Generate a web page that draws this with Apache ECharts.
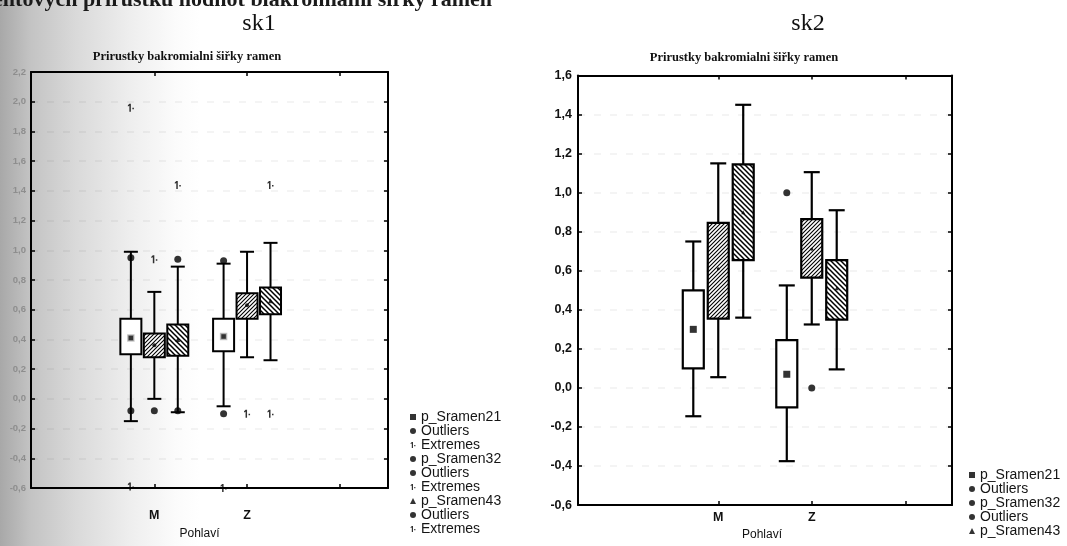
<!DOCTYPE html>
<html>
<head>
<meta charset="utf-8">
<script src="https://cdn.jsdelivr.net/npm/echarts@6/dist/echarts.min.js"></script>
<style>
  html, body { margin: 0; padding: 0; width: 1067px; height: 546px; overflow: hidden;
    background: linear-gradient(to right, #a8a8a8 0px, #c3c3c3 30px, #d9d9d9 75px, #eeeeee 130px, #fbfbfb 175px, #ffffff 200px); }
  #chart { width: 1067px; height: 546px; }
</style>
</head>
<body>
<div id="chart"></div>
<script>
// ---- data ----
const categories = ['M', 'Z'];
const seriesNames = ['p_Sramen21', 'p_Sramen32', 'p_Sramen43'];

// y-axis tick values of each panel
const sk1YTicks = [-0.6, -0.4, -0.2, 0.0, 0.2, 0.4, 0.6, 0.8, 1.0, 1.2, 1.4, 1.6, 1.8, 2.0, 2.2];
const sk2YTicks = [-0.6, -0.4, -0.2, 0.0, 0.2, 0.4, 0.6, 0.8, 1.0, 1.2, 1.4, 1.6];

// box statistics per category (M, Z): [lower whisker, Q1, Q3, upper whisker, mean]
const sk1Sramen21 = [[-0.15, 0.30, 0.54, 0.99, 0.41], [-0.05, 0.32, 0.54, 0.91, 0.42]];
const sk1Sramen32 = [[0.00, 0.28, 0.44, 0.72, 0.36], [0.28, 0.54, 0.71, 0.99, 0.63]];
const sk1Sramen43 = [[-0.09, 0.29, 0.50, 0.89, 0.40], [0.26, 0.57, 0.75, 1.05, 0.66]];

const sk2Sramen21 = [[-0.145, 0.10, 0.50, 0.75, 0.30], [-0.375, -0.10, 0.245, 0.525, 0.07]];
const sk2Sramen32 = [[0.055, 0.355, 0.845, 1.15, 0.61], [0.325, 0.565, 0.865, 1.105, 0.71]];
const sk2Sramen43 = [[0.36, 0.655, 1.145, 1.45, 0.90], [0.095, 0.35, 0.655, 0.91, 0.51]];

// single observations: [category, value]
const sk1Outliers21 = [['M', 0.95], ['M', -0.08], ['Z', 0.93], ['Z', -0.10]];
const sk1Extremes21 = [['M', 1.96], ['M', -0.59], ['Z', -0.60]];
const sk1Outliers32 = [['M', -0.08]];
const sk1Extremes32 = [['M', 0.94], ['Z', -0.10]];
const sk1Outliers43 = [['M', 0.94], ['M', -0.08]];
const sk1Extremes43 = [['M', 1.44], ['Z', 1.44], ['Z', -0.10]];

const sk2Outliers21 = [['Z', 1.00]];
const sk2Outliers32 = [['Z', 0.00]];

const sk1LegendLabels = ['p_Sramen21', 'Outliers', 'Extremes', 'p_Sramen32', 'Outliers', 'Extremes', 'p_Sramen43', 'Outliers', 'Extremes'];
const sk2LegendLabels = ['p_Sramen21', 'Outliers', 'p_Sramen32', 'Outliers', 'p_Sramen43'];

// ---- drawing helpers ----
const SANS = 'Liberation Sans, Arial, sans-serif';
const SERIF = 'Liberation Serif, Times New Roman, serif';

function hatch(size, dir, width) {
  const c = document.createElement('canvas');
  c.width = size; c.height = size;
  const g = c.getContext('2d');
  g.fillStyle = '#ffffff';
  g.fillRect(0, 0, size, size);
  g.strokeStyle = '#000000';
  g.lineWidth = width;
  g.beginPath();
  if (dir > 0) {           // "/" strokes
    for (let k = -1; k <= 1; k++) { g.moveTo(k * size - 1, size + 1); g.lineTo(k * size + size + 1, -1); }
  } else {                 // "\" strokes
    for (let k = -1; k <= 1; k++) { g.moveTo(k * size - 1, -1); g.lineTo(k * size + size + 1, size + 1); }
  }
  g.stroke();
  return { image: c, repeat: 'repeat' };
}

const fills = [
  '#ffffff',
  hatch(4, 1, 1.1),
  hatch(5, -1, 1.5)
];

const extremeSymbol = 'path://M3,0 L5,0 L5,10 L3,10 L3,2.5 L1,3.5 L1,2 Z M7,5 L9,5 L9,7 L7,7 Z';
const meanSymbols = ['rect', 'circle', 'triangle'];

const fmt = v => (Math.abs(v) < 1e-9 ? 0 : v).toFixed(1).replace('.', ',');

function boxRenderer(capHalf, boxHalf, fill, lw) {
  return function (params, api) {
    const x = api.value(0);
    const lo = api.coord([x, api.value(1)]);
    const q1 = api.coord([x, api.value(2)]);
    const q3 = api.coord([x, api.value(3)]);
    const hi = api.coord([x, api.value(4)]);
    const cx = lo[0];
    const ls = { stroke: '#000', lineWidth: lw };
    return {
      type: 'group',
      children: [
        { type: 'line', shape: { x1: cx, y1: hi[1], x2: cx, y2: q3[1] }, style: ls },
        { type: 'line', shape: { x1: cx, y1: q1[1], x2: cx, y2: lo[1] }, style: ls },
        { type: 'line', shape: { x1: cx - capHalf, y1: hi[1], x2: cx + capHalf, y2: hi[1] }, style: ls },
        { type: 'line', shape: { x1: cx - capHalf, y1: lo[1], x2: cx + capHalf, y2: lo[1] }, style: ls },
        { type: 'rect', shape: { x: cx - boxHalf, y: q3[1], width: 2 * boxHalf, height: q1[1] - q3[1] },
          style: { fill: fill, stroke: '#000', lineWidth: lw } }
      ]
    };
  };
}

function axesFor(g, ticks, xMin, xMax, opt) {
  const yMin = ticks[0], yMax = ticks[ticks.length - 1];
  const line = { show: true, onZero: false, lineStyle: { color: '#000', width: 2 } };
  const tick = { show: true, inside: true, length: 4, lineStyle: { width: 1.5, color: '#000' } };
  const xs = [
    { type: 'value', gridIndex: g, min: xMin, max: xMax, position: 'bottom',
      axisLine: line,
      axisTick: Object.assign({ customValues: [1, 2, 3] }, tick),
      axisLabel: { customValues: [1, 2], margin: opt.xLabelMargin, formatter: v => categories[Math.round(v) - 1] || '',
        color: '#111', fontFamily: SANS, fontWeight: 'bold', fontSize: 12.5 },
      splitLine: { show: false },
      name: 'Pohlaví', nameLocation: 'middle', nameGap: opt.nameGap,
      nameTextStyle: { color: '#111', fontFamily: SANS, fontSize: 12, padding: opt.namePad } },
    { type: 'value', gridIndex: g, min: xMin, max: xMax, position: 'top',
      axisLine: line,
      axisTick: Object.assign({ customValues: [1, 2, 3] }, tick),
      axisLabel: { show: false }, splitLine: { show: false } }
  ];
  const ys = [
    { type: 'value', gridIndex: g, min: yMin, max: yMax, interval: 0.2, position: 'left',
      axisLine: line,
      axisTick: tick,
      axisLabel: { formatter: fmt, margin: opt.yLabelMargin, color: opt.yLabelColor, fontFamily: SANS,
        fontWeight: 'bold', fontSize: opt.yLabelSize },
      splitLine: { show: true, lineStyle: { color: 'rgba(0,0,0,0.06)', width: 1.5, type: [7, 9] } } },
    { type: 'value', gridIndex: g, min: yMin, max: yMax, interval: 0.2, position: 'right',
      axisLine: line,
      axisTick: tick,
      axisLabel: { show: false }, splitLine: { show: false } }
  ];
  return { xs, ys };
}

const catIndex = c => categories.indexOf(c) + 1;

function panelSeries(g, boxes, offset, boxSize, pointSets, meanStyle) {
  const xi = g * 2, yi = g * 2;
  const out = [];
  boxes.forEach((stats, k) => {
    const shift = (k - 1) * offset;
    out.push({
      type: 'custom', xAxisIndex: xi, yAxisIndex: yi, clip: false, z: 2,
      renderItem: boxRenderer(boxSize.cap, boxSize.box, fills[k], boxSize.lw),
      encode: { x: 0, y: [1, 2, 3, 4] },
      data: stats.map((s, ci) => [ci + 1 + shift, s[0], s[1], s[2], s[3]])
    });
    out.push({
      type: 'scatter', name: seriesNames[k], xAxisIndex: xi, yAxisIndex: yi, z: 5,
      symbol: meanSymbols[k], symbolSize: meanStyle.size[k],
      itemStyle: { color: '#000', borderColor: meanStyle.border[k], borderWidth: meanStyle.borderWidth[k] },
      data: stats.map((s, ci) => [ci + 1 + shift, s[4]])
    });
  });
  pointSets.forEach(ps => {
    out.push({
      type: 'scatter', name: ps.name, xAxisIndex: xi, yAxisIndex: yi, z: 6,
      symbol: ps.symbol, symbolSize: ps.size,
      itemStyle: { color: ps.color || '#000' },
      data: ps.data.map(d => [catIndex(d[0]) + (ps.k - 1) * offset, d[1]])
    });
  });
  return out;
}

const ax1 = axesFor(0, sk1YTicks, -0.33, 3.52,
  { xLabelMargin: 21, nameGap: 40, namePad: [0, 20, 0, 0], yLabelMargin: 5, yLabelColor: '#8e8e8e', yLabelSize: 9.5 });
const ax2 = axesFor(1, sk2YTicks, -0.5, 3.5,
  { xLabelMargin: 6, nameGap: 20, namePad: [0, 6, 0, 0], yLabelMargin: 6, yLabelColor: '#111', yLabelSize: 12.5 });

const series = [].concat(
  panelSeries(0, [sk1Sramen21, sk1Sramen32, sk1Sramen43], 0.253, { cap: 7, box: 10.5, lw: 2 }, [
    { name: 'Outliers', k: 0, symbol: 'circle', size: 7, data: sk1Outliers21 },
    { name: 'Extremes', k: 0, symbol: extremeSymbol, size: [6, 8], data: sk1Extremes21 },
    { name: 'Outliers ', k: 1, symbol: 'circle', size: 7, data: sk1Outliers32 },
    { name: 'Extremes ', k: 1, symbol: extremeSymbol, size: [6, 8], data: sk1Extremes32 },
    { name: 'Outliers  ', k: 2, symbol: 'circle', size: 7, data: sk1Outliers43 },
    { name: 'Extremes  ', k: 2, symbol: extremeSymbol, size: [6, 8], data: sk1Extremes43 }
  ], { size: [6, 4, 5], border: ['#bbbbbb', '#000', '#000'], borderWidth: [1.5, 0, 0] }),
  panelSeries(1, [sk2Sramen21, sk2Sramen32, sk2Sramen43], 0.267, { cap: 8, box: 10.5, lw: 2.2 }, [
    { name: 'Outliers', k: 0, symbol: 'circle', size: 7, data: sk2Outliers21 },
    { name: 'Outliers ', k: 1, symbol: 'circle', size: 7, data: sk2Outliers32 }
  ], { size: [7, 3, 4], border: ['#000', '#000', '#000'], borderWidth: [0, 0, 0] })
);

// legend entries keep their own marker; repeated labels map to distinct series names
const sk1LegendNames = ['p_Sramen21', 'Outliers', 'Extremes', 'p_Sramen32', 'Outliers ', 'Extremes ', 'p_Sramen43', 'Outliers  ', 'Extremes  '];
const sk1LegendIcons = ['rect', 'circle', extremeSymbol, 'circle', 'circle', extremeSymbol, 'triangle', 'circle', extremeSymbol];
const sk2LegendNames = ['p_Sramen21', 'Outliers', 'p_Sramen32', 'Outliers ', 'p_Sramen43'];
const sk2LegendIcons = ['rect', 'circle', 'circle', 'circle', 'triangle'];

const legendText = { color: '#151515', fontFamily: SANS, fontSize: 14, lineHeight: 14 };

const chart = echarts.init(document.getElementById('chart'), null, { renderer: 'canvas' });
chart.setOption({
  animation: false,
  grid: [
    { left: 31, top: 72, width: 357, height: 416 },
    { left: 578, top: 75.5, width: 374, height: 430.5 }
  ],
  xAxis: ax1.xs.concat(ax2.xs),
  yAxis: ax1.ys.concat(ax2.ys),
  legend: [
    { orient: 'vertical', left: 405, top: 405, itemWidth: 6, itemHeight: 6, itemGap: 0, itemTextGap: 10,
      itemStyle: { color: '#000', borderWidth: 0 },
      selectedMode: false, textStyle: legendText, formatter: n => n.trim(),
      data: sk1LegendNames.map((n, i) => ({ name: n, icon: sk1LegendIcons[i] })) },
    { orient: 'vertical', left: 964, top: 463, itemWidth: 6, itemHeight: 6, itemGap: 0, itemTextGap: 15,
      itemStyle: { color: '#000', borderWidth: 0 },
      selectedMode: false, textStyle: legendText, formatter: n => n.trim(),
      data: sk2LegendNames.map((n, i) => ({ name: n, icon: sk2LegendIcons[i] })) }
  ],
  graphic: [
    { type: 'text', x: 492, y: 0, style: { text: 'Boxploty procentových přírůstků hodnot biakromiální šířky ramen',
      align: 'right', verticalAlign: 'middle', font: 'bold 22px ' + SERIF, fill: '#1a1a1a' } },
    { type: 'text', x: 259, y: 24, style: { text: 'sk1', align: 'center', verticalAlign: 'middle', font: '24px ' + SERIF, fill: '#111' } },
    { type: 'text', x: 808, y: 24, style: { text: 'sk2', align: 'center', verticalAlign: 'middle', font: '24px ' + SERIF, fill: '#111' } },
    { type: 'text', x: 187, y: 57, style: { text: 'Prirustky bakromialni šiřky ramen', align: 'center', verticalAlign: 'middle',
      font: 'bold 12.5px ' + SERIF, fill: '#111' } },
    { type: 'text', x: 744, y: 58, style: { text: 'Prirustky bakromialni šiřky ramen', align: 'center', verticalAlign: 'middle',
      font: 'bold 12.5px ' + SERIF, fill: '#111' } }
  ],
  series: series
});
</script>
</body>
</html>
